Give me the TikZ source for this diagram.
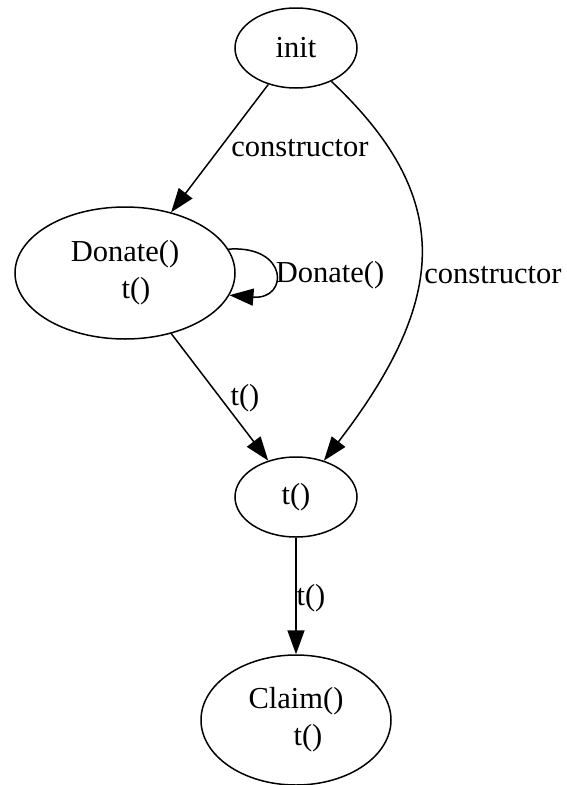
\documentclass[tikz,border=0pt]{standalone}
\usepackage{fontspec}
\setmainfont{Liberation Serif}
\usetikzlibrary{shapes.geometric,arrows.meta}
\begin{document}
\begin{tikzpicture}[x=1pt,y=-1pt,
  state/.style={ellipse,draw,line width=1.5pt,inner sep=0pt,align=center,font=\fontsize{30.5}{37}\selectfont},
  edge/.style={line width=1.5pt,-{Triangle[length=24pt,width=17pt]}},
  lbl/.style={font=\fontsize{30.5}{37}\selectfont,inner sep=0pt}]
\useasboundingbox (0,0) rectangle (566,785);
\node[state,minimum width=122pt,minimum height=80pt] (init) at (296,48) {init};
\node[state,minimum width=220pt,minimum height=132pt] (donate) at (125,273) {Donate()\\\hspace*{22pt}t()};
\node[state,minimum width=122pt,minimum height=80pt] (t) at (296,497) {t()};
\node[state,minimum width=190pt,minimum height=130pt] (claim) at (296,720) {Claim()\\\hspace*{24pt}t()};

\draw[edge] (init) -- (donate);
\draw[edge] (donate.13) .. controls (289,245) and (289,300) .. (donate.-12);
\draw[edge] (init) .. controls (454,197) and (449,298) .. (t);
\draw[edge] (donate) -- (t);
\draw[edge] (t) -- (claim);

\node[lbl] (l1) at (300,148) {constructor};
\node[lbl] (l2) at (330,275) {Donate()};
\node[lbl] (l3) at (493,275) {constructor};
\node[lbl] (l4) at (245,398) {t()};
\node[lbl] (l5) at (311,598) {t()};
\end{tikzpicture}
\end{document}
